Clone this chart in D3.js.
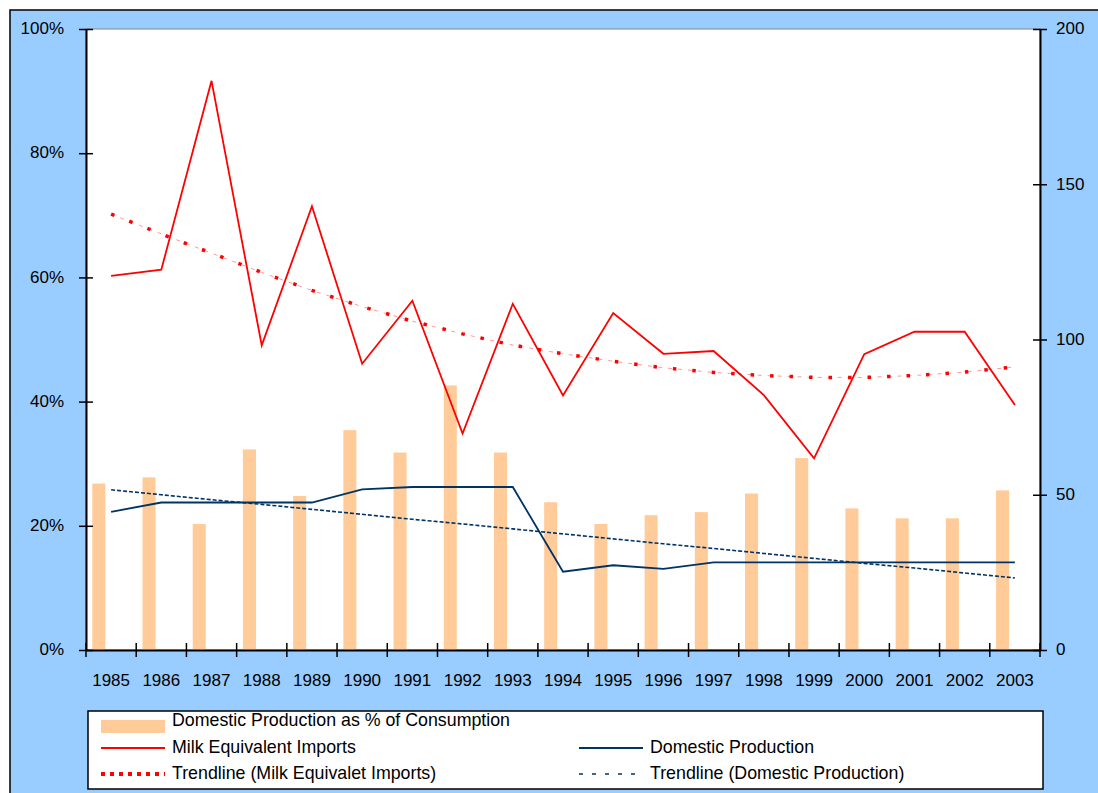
<!DOCTYPE html>
<html>
<head>
<meta charset="utf-8">
<script src="https://cdn.jsdelivr.net/npm/d3@7/dist/d3.min.js"></script>
<style>
  html, body { margin: 0; padding: 0; background: #fff; }
  svg text { font-family: Arial, "Liberation Sans", sans-serif; fill: #000; }
</style>
</head>
<body>
<div id="chart"></div>
<script>
// 数据
const years = ['1985', '1986', '1987', '1988', '1989', '1990', '1991', '1992', '1993', '1994',
  '1995', '1996', '1997', '1998', '1999', '2000', '2001', '2002', '2003'];
// 左轴：国内生产占消费比例
const sharePct = [0.268, 0.278, 0.203, 0.323, 0.248, 0.354, 0.318, 0.426, 0.318, 0.238,
  0.203, 0.217, 0.222, 0.252, 0.309, 0.228, 0.212, 0.212, 0.257];
// 右轴
const milkImports = [120.5, 122.5, 183.3, 98.1, 142.9, 92.2, 112.5, 69.7, 111.5, 82.0,
  108.5, 95.4, 96.3, 82.1, 61.7, 95.3, 102.5, 102.5, 78.9];
const domesticProd = [44.5, 47.5, 47.5, 47.5, 47.5, 51.7, 52.5, 52.5, 52.5, 25.2,
  27.3, 26.1, 28.2, 28.2, 28.2, 28.2, 28.2, 28.2, 28.2];
const importsTrend = [140.4, 134.0, 127.8, 121.6, 115.8, 110.6, 105.9, 101.8, 98.2, 95.4,
  93.0, 90.9, 89.4, 88.4, 87.8, 87.8, 88.4, 89.5, 91.2];
const domesticTrend = [51.6, 50.0, 48.4, 46.9, 45.3, 43.7, 42.1, 40.6, 39.0, 37.4,
  35.8, 34.2, 32.7, 31.1, 29.5, 27.9, 26.4, 24.8, 23.2];
const leftTicks = [0, 0.2, 0.4, 0.6, 0.8, 1];
const rightTicks = [0, 50, 100, 150, 200];

const W = 1098, H = 793;
const plot = { left: 86, right: 1040, top: 29, bottom: 650 };

const svg = d3.select('#chart').append('svg')
  .attr('width', W).attr('height', H);

// 外框
svg.append('rect')
  .attr('x', 10).attr('y', 10)
  .attr('width', 1110).attr('height', 810)
  .attr('fill', '#99CCFF')
  .attr('stroke', '#000').attr('stroke-width', 1.5);

svg.append('rect')
  .attr('x', plot.left).attr('y', plot.top)
  .attr('width', plot.right - plot.left).attr('height', plot.bottom - plot.top)
  .attr('fill', '#fff')
  .attr('stroke', '#888').attr('stroke-width', 1);

const x = d3.scaleBand().domain(years).range([plot.left, plot.right]).padding(0);
const bw = x.bandwidth();
const cx = (d) => x(d) + bw / 2;
const yL = d3.scaleLinear().domain([0, 1]).range([plot.bottom, plot.top]);
const yR = d3.scaleLinear().domain([0, 200]).range([plot.bottom, plot.top]);

// 柱
svg.append('g').selectAll('rect.bar')
  .data(years)
  .enter()
  .append('rect')
  .attr('class', 'bar')
  .attr('x', (d) => x(d) + bw * 0.125)
  .attr('width', bw * 0.26)
  .attr('y', (d, i) => yL(sharePct[i]))
  .attr('height', (d, i) => plot.bottom - yL(sharePct[i]))
  .attr('fill', '#FFCC99');

const line = (vals) => d3.line()
  .x((d, i) => cx(years[i]))
  .y((d) => yR(d))(vals);

// 趋势线
svg.append('path')
  .attr('d', line(domesticTrend))
  .attr('fill', 'none')
  .attr('stroke', '#003366').attr('stroke-width', 1.6)
  .attr('stroke-dasharray', '4,2');

svg.append('path')
  .attr('d', line(importsTrend))
  .attr('fill', 'none')
  .attr('stroke', '#ff9999').attr('stroke-width', 1)
  .attr('stroke-dasharray', '4,6');
svg.append('path')
  .attr('d', line(importsTrend))
  .attr('fill', 'none')
  .attr('stroke', '#ff0000').attr('stroke-width', 3.5)
  .attr('stroke-dasharray', '3.5,16');

svg.append('path')
  .attr('d', line(domesticProd))
  .attr('fill', 'none')
  .attr('stroke', '#003366').attr('stroke-width', 1.8);

svg.append('path')
  .attr('d', line(milkImports))
  .attr('fill', 'none')
  .attr('stroke', '#ff0000').attr('stroke-width', 1.8);

// 坐标轴
const gL = svg.append('g')
  .attr('transform', `translate(${plot.left},0)`)
  .call(d3.axisLeft(yL).tickValues(leftTicks).tickFormat(d3.format('.0%'))
    .tickSizeInner(7).tickSizeOuter(0).tickPadding(15));
gL.selectAll('.tick line').attr('x2', 7).attr('x1', -7);

const gR = svg.append('g')
  .attr('transform', `translate(${plot.right},0)`)
  .call(d3.axisRight(yR).tickValues(rightTicks)
    .tickSizeInner(7).tickSizeOuter(0).tickPadding(9));
gR.selectAll('.tick line').attr('x1', -7).attr('x2', 7);

[gL, gR].forEach((g) => {
  g.select('.domain').attr('stroke', '#000').attr('stroke-width', 2);
  g.selectAll('.tick line').attr('stroke', '#000').attr('stroke-width', 1.5);
  g.selectAll('.tick text')
    .attr('font-size', 17).attr('font-family', null)
    .attr('dy', '0.28em');
});

const gX = svg.append('g')
  .attr('transform', `translate(0,${plot.bottom})`)
  .call(d3.axisBottom(x).tickSizeInner(0).tickSizeOuter(0));
gX.select('.domain').attr('stroke', '#000').attr('stroke-width', 2);
gX.selectAll('.tick text')
  .attr('font-size', 17).attr('font-family', null)
  .attr('y', 35.5).attr('dy', 0);

// x轴刻度在类别边界上
gX.selectAll('line.edge')
  .data(years.map((d) => x(d)).concat([plot.right]))
  .enter()
  .append('line')
  .attr('class', 'edge')
  .attr('x1', (d) => d).attr('x2', (d) => d)
  .attr('y1', -7).attr('y2', 7)
  .attr('stroke', '#000').attr('stroke-width', 1.5);

// 图例
const legend = svg.append('g');
legend.append('rect')
  .attr('x', 88).attr('y', 711)
  .attr('width', 955).attr('height', 78)
  .attr('fill', '#fff')
  .attr('stroke', '#000').attr('stroke-width', 1.5);

const legendItems = [
  { label: 'Domestic Production as % of Consumption', x: 101, y: 726, type: 'bar' },
  { label: 'Milk Equivalent Imports', x: 101, y: 752.5, type: 'line', color: '#ff0000' },
  { label: 'Domestic Production', x: 579, y: 752.5, type: 'line', color: '#003366' },
  { label: 'Trendline (Milk Equivalet Imports)', x: 101, y: 778.5, type: 'dots', color: '#ff0000' },
  { label: 'Trendline (Domestic Production)', x: 579, y: 778.5, type: 'dash', color: '#003366' },
];

legendItems.forEach((d) => {
  if (d.type === 'bar') {
    legend.append('rect')
      .attr('x', d.x).attr('y', d.y - 6)
      .attr('width', 64).attr('height', 13)
      .attr('fill', '#FFCC99');
  } else {
    const ly = d.y - 4.5;
    const sym = legend.append('line')
      .attr('x1', d.x).attr('x2', d.x + 64)
      .attr('y1', ly).attr('y2', ly)
      .attr('stroke', d.color);
    if (d.type === 'line') sym.attr('stroke-width', 2);
    if (d.type === 'dots') sym.attr('stroke-width', 4).attr('stroke-dasharray', '4,5');
    if (d.type === 'dash') sym.attr('stroke-width', 1.5).attr('stroke-dasharray', '4,9');
  }
  legend.append('text')
    .attr('x', d.x + 71).attr('y', d.y)
    .attr('font-size', 17.8)
    .text(d.label);
});
</script>
</body>
</html>
